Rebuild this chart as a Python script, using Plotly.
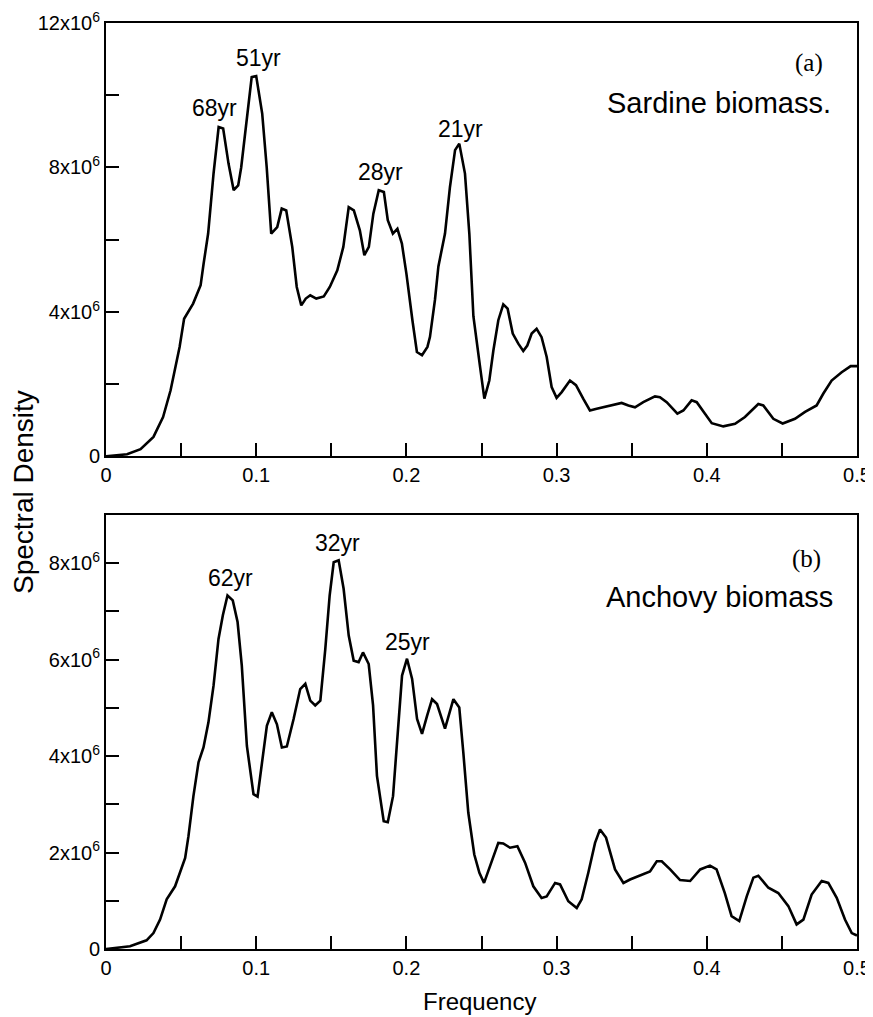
import plotly.graph_objects as go

# Sardine biomass spectrum (panel a)
sardine_freq = [0, 0.014, 0.023, 0.0316, 0.038, 0.043, 0.049, 0.052, 0.058, 0.063, 0.065, 0.068,
                0.0716, 0.075, 0.078, 0.0816, 0.085, 0.088, 0.090, 0.094, 0.097, 0.100, 0.104,
                0.107, 0.110, 0.114, 0.117, 0.120, 0.124, 0.127, 0.130, 0.133, 0.136, 0.140,
                0.145, 0.149, 0.154, 0.158, 0.1616, 0.165, 0.169, 0.172, 0.175, 0.178, 0.1816,
                0.185, 0.1876, 0.191, 0.194, 0.197, 0.200, 0.204, 0.207, 0.2104, 0.214, 0.2157,
                0.219, 0.2213, 0.2257, 0.229, 0.2324, 0.2352, 0.239, 0.2419, 0.2446, 0.249,
                0.2519, 0.2552, 0.2579, 0.2612, 0.2645, 0.2674, 0.2708, 0.2745, 0.2778, 0.2805,
                0.2834, 0.2867, 0.290, 0.2934, 0.2967, 0.300, 0.3034, 0.3089, 0.3129, 0.3178,
                0.3222, 0.3267, 0.3356, 0.3433, 0.3478, 0.3522, 0.3577, 0.3655, 0.3688, 0.3733,
                0.3804, 0.3844, 0.3899, 0.3933, 0.3988, 0.4033, 0.411, 0.4188, 0.4254, 0.4343,
                0.4376, 0.4443, 0.4505, 0.4587, 0.4654, 0.4731, 0.4776, 0.4831, 0.4898, 0.4958,
                0.500]
sardine_dens = [0, 0.06, 0.2, 0.54, 1.09, 1.83, 3.03, 3.81, 4.23, 4.74, 5.34, 6.17,
                7.83, 9.12, 9.08, 8.1, 7.37, 7.5, 8.0, 9.4, 10.5, 10.53, 9.49,
                8.0, 6.17, 6.35, 6.86, 6.81, 5.8, 4.69, 4.18, 4.37, 4.46, 4.37,
                4.43, 4.69, 5.15, 5.8, 6.9, 6.81, 6.26, 5.57, 5.8, 6.72, 7.37,
                7.32, 6.54, 6.17, 6.3, 5.89, 5.06, 3.77, 2.89, 2.8, 3.03, 3.31,
                4.33, 5.26, 6.17, 7.46, 8.48, 8.66, 7.83, 6.17, 3.88, 2.49,
                1.6, 2.1, 2.93, 3.77, 4.21, 4.09, 3.4, 3.12, 2.92, 3.07,
                3.4, 3.53, 3.3, 2.75, 1.92, 1.62, 1.78, 2.1, 1.97, 1.59,
                1.27, 1.32, 1.41, 1.48, 1.41, 1.36, 1.5, 1.66, 1.64, 1.5,
                1.18, 1.27, 1.55, 1.5, 1.18, 0.92, 0.83, 0.9, 1.09, 1.45,
                1.41, 1.04, 0.91, 1.04, 1.23, 1.41, 1.74, 2.1, 2.33, 2.5,
                2.5]

# Anchovy biomass spectrum (panel b)
anchovy_freq = [0, 0.016, 0.027, 0.0316, 0.036, 0.0404, 0.046, 0.049, 0.0527, 0.0549, 0.0582,
                0.0616, 0.0649, 0.0682, 0.0716, 0.0749, 0.0778, 0.0809, 0.0844, 0.0876, 0.0904,
                0.0938, 0.0982, 0.1009, 0.1049, 0.1071, 0.1104, 0.1138, 0.1171, 0.1204, 0.1249,
                0.1293, 0.1327, 0.136, 0.1393, 0.1427, 0.146, 0.1489, 0.1516, 0.1549, 0.1582,
                0.1616, 0.1649, 0.1682, 0.1711, 0.1749, 0.1778, 0.1804, 0.1849, 0.1876, 0.1911,
                0.1942, 0.1971, 0.2004, 0.2038, 0.2071, 0.2104, 0.2138, 0.2171, 0.2204, 0.2257,
                0.2313, 0.2352, 0.2379, 0.2412, 0.2452, 0.2486, 0.2517, 0.2557, 0.2612, 0.2645,
                0.269, 0.2739, 0.279, 0.2845, 0.290, 0.2934, 0.299, 0.3023, 0.3078, 0.3134,
                0.3167, 0.3211, 0.3256, 0.3289, 0.3329, 0.3389, 0.3445, 0.3489, 0.3545, 0.3622,
                0.3667, 0.370, 0.3756, 0.3822, 0.3889, 0.3956, 0.4021, 0.4065, 0.412, 0.4165,
                0.4216, 0.4266, 0.431, 0.4343, 0.441, 0.4476, 0.4543, 0.4598, 0.4643, 0.4698,
                0.4765, 0.4809, 0.4865, 0.492, 0.4965, 0.500]
anchovy_dens = [0, 0.055, 0.18, 0.33, 0.61, 1.03, 1.3, 1.58, 1.89, 2.34, 3.17,
                3.87, 4.18, 4.7, 5.46, 6.43, 6.92, 7.33, 7.23, 6.78, 5.88,
                4.21, 3.21, 3.16, 4.07, 4.63, 4.91, 4.66, 4.18, 4.2, 4.77,
                5.39, 5.5, 5.15, 5.05, 5.15, 6.22, 7.33, 8.02, 8.06, 7.47,
                6.5, 5.98, 5.95, 6.15, 5.91, 5.05, 3.59, 2.65, 2.63, 3.17,
                4.49, 5.67, 6.02, 5.6, 4.77, 4.46, 4.84, 5.18, 5.08, 4.57,
                5.18, 5.01, 4.07, 2.83, 1.96, 1.58, 1.37, 1.72, 2.2, 2.19,
                2.1, 2.13, 1.79, 1.3, 1.06, 1.09, 1.37, 1.34, 0.99, 0.85,
                1.03, 1.58, 2.2, 2.48, 2.31, 1.65, 1.37, 1.44, 1.51, 1.61,
                1.82, 1.82, 1.65, 1.43, 1.41, 1.65, 1.73, 1.65, 1.16, 0.68,
                0.58, 1.09, 1.48, 1.52, 1.27, 1.16, 0.89, 0.51, 0.61, 1.13,
                1.41, 1.37, 1.06, 0.61, 0.33, 0.28]

# peak labels: (text, freq, density in 1e6)
sardine_peaks = [("68yr", 0.072, 9.64), ("51yr", 0.1012, 11.02), ("28yr", 0.183, 7.87), ("21yr", 0.2357, 9.06)]
anchovy_peaks = [("62yr", 0.0832, 7.7), ("32yr", 0.1538, 8.42), ("25yr", 0.201, 6.36)]

x_ticks = [0, 0.1, 0.2, 0.3, 0.4, 0.5]
x_labels = ["0", "0.1", "0.2", "0.3", "0.4", "0.5"]
top_y_ticks = [0, 4e6, 8e6, 12e6]
top_y_labels = ["0", "4x10<sup>6</sup>", "8x10<sup>6</sup>", "12x10<sup>6</sup>"]
bot_y_ticks = [0, 2e6, 4e6, 6e6, 8e6]
bot_y_labels = ["0", "2x10<sup>6</sup>", "4x10<sup>6</sup>", "6x10<sup>6</sup>", "8x10<sup>6</sup>"]

FONT = "Liberation Sans, Arial, sans-serif"
SERIF = "Liberation Serif, Times New Roman, serif"

fig = go.Figure()
fig.add_trace(go.Scatter(x=sardine_freq, y=[v * 1e6 for v in sardine_dens], mode="lines",
                         line=dict(color="black", width=2.6), xaxis="x", yaxis="y", showlegend=False))
fig.add_trace(go.Scatter(x=anchovy_freq, y=[v * 1e6 for v in anchovy_dens], mode="lines",
                         line=dict(color="black", width=2.6), xaxis="x2", yaxis="y2", showlegend=False))

axis_style = dict(showline=True, mirror=True, linecolor="black", linewidth=2, showgrid=False,
                  zeroline=False, ticks="inside", ticklen=13, tickwidth=1.6, tickcolor="black",
                  automargin=False, tickfont=dict(family=FONT, size=20, color="black"))

x_common = dict(axis_style, range=[0, 0.5], tickvals=x_ticks, ticktext=x_labels,
                minor=dict(dtick=0.05, tick0=0, ticks="inside", ticklen=13, tickwidth=1.6, tickcolor="black"))

# page body has an 8px margin, so the figure is shrunk by that amount
fig.update_layout(
    width=865, height=1009,
    margin=dict(l=98, r=16, t=15, b=68),
    plot_bgcolor="white", paper_bgcolor="white",
    xaxis=dict(x_common, domain=[0, 1], anchor="y"),
    yaxis=dict(axis_style, domain=[0.532, 1], anchor="x", range=[0, 12e6],
               tickvals=top_y_ticks, ticktext=top_y_labels,
               minor=dict(dtick=2e6, tick0=0, ticks="inside", ticklen=13, tickwidth=1.6, tickcolor="black")),
    xaxis2=dict(x_common, domain=[0, 1], anchor="y2"),
    yaxis2=dict(axis_style, domain=[0, 0.4687], anchor="x2", range=[0, 9e6],
                tickvals=bot_y_ticks, ticktext=bot_y_labels,
                minor=dict(dtick=1e6, tick0=0, ticks="inside", ticklen=13, tickwidth=1.6, tickcolor="black")),
)

for text, f, v in sardine_peaks:
    fig.add_annotation(x=f, y=v * 1e6, xref="x", yref="y", text=text, showarrow=False,
                       font=dict(family=FONT, size=23, color="black"))
for text, f, v in anchovy_peaks:
    fig.add_annotation(x=f, y=v * 1e6, xref="x2", yref="y2", text=text, showarrow=False,
                       font=dict(family=FONT, size=23, color="black"))

# panel labels
fig.add_annotation(x=0.468, y=10.9e6, xref="x", yref="y", text="(a)", showarrow=False,
                   font=dict(family=SERIF, size=25, color="black"))
fig.add_annotation(x=0.4842, y=9.78e6, xref="x", yref="y", text="Sardine biomass.", showarrow=False,
                   xanchor="right", font=dict(family=FONT, size=29, color="black"))
fig.add_annotation(x=0.4667, y=8.09e6, xref="x2", yref="y2", text="(b)", showarrow=False,
                   font=dict(family=SERIF, size=25, color="black"))
fig.add_annotation(x=0.4855, y=7.3e6, xref="x2", yref="y2", text="Anchovy biomass", showarrow=False,
                   xanchor="right", font=dict(family=FONT, size=29, color="black"))

# axis titles
fig.add_annotation(x=-0.1105, y=0.4935, xref="paper", yref="paper", text="Spectral Density",
                   textangle=-90, showarrow=False, xanchor="center", yanchor="middle",
                   font=dict(family=FONT, size=28, color="black"))
fig.add_annotation(x=0.498, y=-0.057, xref="paper", yref="paper", text="Frequency",
                   showarrow=False, xanchor="center", yanchor="middle",
                   font=dict(family=FONT, size=24, color="black"))

fig.write_html("out.html")
